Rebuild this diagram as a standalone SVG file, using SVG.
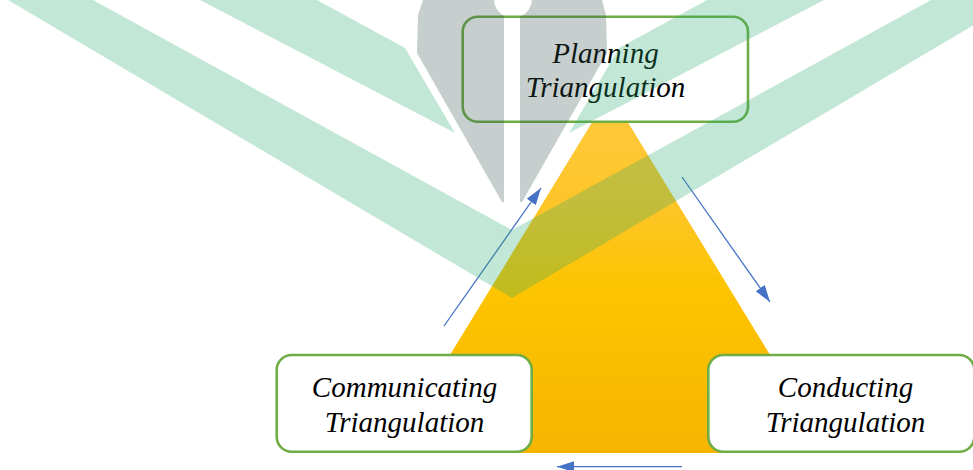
<svg xmlns="http://www.w3.org/2000/svg" width="973" height="470" viewBox="0 0 973 470">
  <defs>
    <style>
      .box { fill: #ffffff; stroke: #70ad47; stroke-width: 2.6; }
      .lbl { font-family: "Liberation Serif", "Times New Roman", serif; font-style: italic; font-size: 29px; fill: #000000; text-anchor: middle; }
      .conn { fill: none; stroke: #4472c4; stroke-width: 1.3; }
      .wm-green { fill: #27aa6a; fill-opacity: 0.28; }
      .wm-grey { fill: #33544a; fill-opacity: 0.28; }
    </style>
    <linearGradient id="gold" x1="0" y1="93" x2="0" y2="453" gradientUnits="userSpaceOnUse">
      <stop offset="0" stop-color="#ffc93d"/>
      <stop offset="0.3" stop-color="#fec52a"/>
      <stop offset="0.55" stop-color="#fdc400"/>
      <stop offset="1" stop-color="#f5b500"/>
    </linearGradient>
    <marker id="arrow" markerUnits="userSpaceOnUse" markerWidth="17" markerHeight="12" refX="17" refY="6" orient="auto">
      <path d="M0,0.5 L17,6 L0,11.5 Z" fill="#4472c4"/>
    </marker>
  </defs>

  <rect x="0" y="0" width="973" height="470" fill="#ffffff"/>

  <polygon id="triangle" points="610,93 830,453 390,453" fill="url(#gold)"/>

  <g id="node-planning">
    <rect class="box" x="462.7" y="16.7" width="285.3" height="105" rx="15" ry="15"/>
    <text class="lbl" x="605.5" y="62.7">Planning</text>
    <text class="lbl" x="605.5" y="96.7">Triangulation</text>
  </g>

  <g id="node-communicating">
    <rect class="box" x="276.7" y="355" width="255" height="96.7" rx="15" ry="15"/>
    <text class="lbl" x="404.5" y="397.3">Communicating</text>
    <text class="lbl" x="404.5" y="431.7">Triangulation</text>
  </g>

  <g id="node-conducting">
    <rect class="box" x="708.3" y="355" width="266" height="96.7" rx="15" ry="15"/>
    <text class="lbl" x="845.5" y="397.3">Conducting</text>
    <text class="lbl" x="845.5" y="431.7">Triangulation</text>
  </g>

  <g id="connectors">
    <line class="conn" x1="444" y1="326" x2="541" y2="188" marker-end="url(#arrow)"/>
    <line class="conn" x1="682" y1="177" x2="770" y2="302" marker-end="url(#arrow)"/>
    <line class="conn" x1="682" y1="466.7" x2="557" y2="466.7" marker-end="url(#arrow)"/>
  </g>

  <g id="watermark">
    <polygon class="wm-green" points="8,0 93,0 512,230 931,0 1016,0 512,298"/>
    <polygon class="wm-green" points="200,0 317,0 405,48 455,133"/>
    <polygon class="wm-green" points="824,0 707,0 619,48 569,133"/>
    <path class="wm-grey" d="M423,0 L494,0 A19,19 0 0 0 504,15.7 L504,202 L502,202 L417,53 L418,15 Z"/>
    <path class="wm-grey" d="M520,16.7 A19,19 0 0 0 532,0 L602,0 L606,15 L607,53 L522,202 L520,202 Z"/>
  </g>
</svg>
